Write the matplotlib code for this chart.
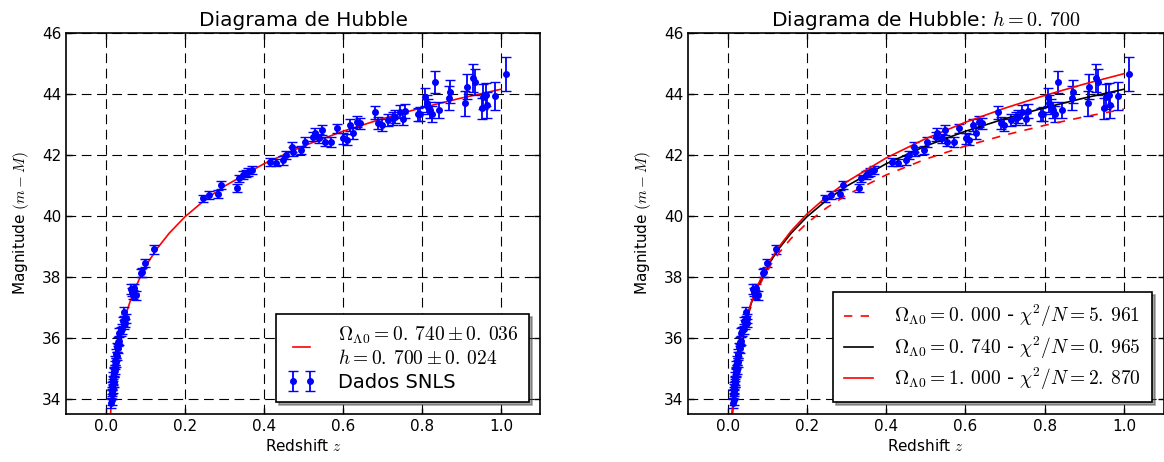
import numpy as np
import matplotlib
matplotlib.use('Agg')
from matplotlib import pyplot as plt

plt.rcParams['mathtext.fontset'] = 'cm'
plt.rcParams['lines.scale_dashes'] = False

# modelo: modulo de distancia (m-M) para h=0.700
z_model = [0.009, 0.011, 0.013, 0.015, 0.018, 0.022, 0.027, 0.033, 0.04, 0.05, 0.06,
           0.075, 0.09, 0.11, 0.13, 0.16, 0.2, 0.25, 0.3, 0.4, 0.5, 0.6, 0.7, 0.8, 0.9, 1.0]
mu_L000 = [32.94, 33.372, 33.735, 34.047, 34.445, 34.883, 35.330, 35.769, 36.190, 36.680, 37.081,
           37.573, 37.976, 38.422, 38.793, 39.258, 39.761, 40.266, 40.682, 41.344, 41.863,
           42.290, 42.653, 42.970, 43.251, 43.503]
mu_L074 = [32.95, 33.385, 33.751, 34.065, 34.466, 34.909, 35.362, 35.807, 36.237, 36.738, 37.151,
           37.658, 38.078, 38.544, 38.936, 39.430, 39.970, 40.518, 40.974, 41.710, 42.293,
           42.776, 43.188, 43.548, 43.867, 44.154]
mu_L100 = [32.95, 33.390, 33.756, 34.071, 34.474, 34.918, 35.374, 35.822, 36.254, 36.760, 37.177,
           37.691, 38.117, 38.593, 38.993, 39.501, 40.060, 40.633, 41.114, 41.900, 42.535,
           43.071, 43.536, 43.950, 44.324, 44.664]

# supernovas proximas
z_near = [0.0140, 0.0145, 0.0150, 0.0155, 0.0160, 0.0165, 0.0170, 0.0175, 0.0180, 0.0190,
          0.0195, 0.0200, 0.0210, 0.0220, 0.0230, 0.0240, 0.0250, 0.0260, 0.0270, 0.0280,
          0.0300, 0.0310, 0.0330, 0.0340, 0.0370, 0.0400, 0.0420, 0.0450, 0.0460, 0.0480,
          0.0500, 0.063, 0.066, 0.069, 0.072, 0.076, 0.088, 0.092, 0.099, 0.121]
m_near = [33.86, 34.14, 33.97, 34.24, 34.15, 34.42, 34.33, 34.60, 34.52, 34.73,
          34.55, 34.90, 34.86, 35.11, 34.95, 35.25, 35.19, 35.48, 35.41, 35.69,
          35.65, 35.87, 35.91, 36.17, 36.21, 36.29, 36.54, 36.44, 36.85, 36.49,
          36.64, 37.60, 37.50, 37.42, 37.62, 37.40, 38.12, 38.15, 38.45, 38.90]
e_near = [0.16, 0.15, 0.17, 0.15, 0.16, 0.14, 0.15, 0.16, 0.14, 0.15,
          0.15, 0.14, 0.15, 0.14, 0.15, 0.14, 0.15, 0.14, 0.14, 0.15,
          0.14, 0.15, 0.14, 0.15, 0.14, 0.15, 0.14, 0.14, 0.15, 0.14,
          0.14, 0.15, 0.14, 0.15, 0.14, 0.15, 0.14, 0.14, 0.14, 0.15]

# supernovas SNLS
z_snls = [0.246, 0.262, 0.284, 0.291, 0.331, 0.337, 0.348, 0.355, 0.360, 0.369,
          0.415, 0.430, 0.449, 0.457, 0.470, 0.474, 0.495, 0.504, 0.525, 0.529,
          0.540, 0.548, 0.554, 0.571, 0.584, 0.601, 0.610, 0.618, 0.626, 0.635,
          0.643, 0.681, 0.689, 0.698, 0.715, 0.727, 0.732, 0.744, 0.753, 0.757,
          0.791, 0.795, 0.808, 0.812, 0.816, 0.820, 0.825, 0.833, 0.843, 0.869,
          0.871, 0.909, 0.913, 0.930, 0.934, 0.951, 0.955, 0.962, 0.964, 0.985, 1.013]
m_snls = [40.57, 40.68, 40.71, 41.00, 40.92, 41.23, 41.34, 41.40, 41.44, 41.50,
          41.77, 41.75, 41.83, 41.99, 42.27, 42.10, 42.16, 42.43, 42.60, 42.71,
          42.55, 42.82, 42.43, 42.43, 42.87, 42.54, 42.50, 42.98, 42.71, 43.09,
          43.04, 43.40, 43.04, 42.98, 43.14, 43.20, 43.25, 43.42, 43.17, 43.44,
          43.33, 43.34, 43.91, 43.69, 43.58, 43.47, 43.33, 44.40, 43.47, 43.86,
          44.08, 43.69, 44.24, 44.52, 44.40, 43.53, 43.91, 43.97, 43.64, 43.93, 44.66]
e_snls = [0.12, 0.12, 0.13, 0.13, 0.14, 0.12, 0.13, 0.12, 0.13, 0.14,
          0.14, 0.13, 0.15, 0.14, 0.16, 0.15, 0.14, 0.17, 0.15, 0.16,
          0.15, 0.16, 0.15, 0.17, 0.16, 0.18, 0.17, 0.20, 0.18, 0.19,
          0.18, 0.21, 0.19, 0.20, 0.20, 0.22, 0.21, 0.22, 0.20, 0.23,
          0.21, 0.22, 0.30, 0.28, 0.25, 0.27, 0.26, 0.36, 0.25, 0.40,
          0.38, 0.40, 0.42, 0.45, 0.42, 0.35, 0.40, 0.38, 0.42, 0.45, 0.55]

z_data = z_near + z_snls
m_data = m_near + m_snls
e_data = e_near + e_snls

fig = plt.figure(figsize=(11.64, 4.62), dpi=100)
ax1 = fig.add_axes([0.0571, 0.1039, 0.4072, 0.8247])
ax2 = fig.add_axes([0.5911, 0.1039, 0.4085, 0.8247])


def estilo(ax, titulo):
    ax.set_xlim(-0.1, 1.1)
    ax.set_ylim(33.5, 46)
    ax.set_xticks([0.0, 0.2, 0.4, 0.6, 0.8, 1.0])
    ax.set_yticks([34, 36, 38, 40, 42, 44, 46])
    ax.set_axisbelow(True)
    ax.grid(True, color='k', linestyle=(0, (7, 4)), linewidth=0.8)
    ax.tick_params(direction='in', top=True, right=True, length=4, width=1, labelsize=11)
    for s in ax.spines.values():
        s.set_linewidth(1.2)
    ax.set_title(titulo, fontsize=14.5, pad=5)
    ax.set_xlabel('Redshift $z$', fontsize=11, labelpad=3)
    ax.set_ylabel('Magnitude $(m-M)$', fontsize=11, labelpad=8)


def dados(ax, lab):
    ax.errorbar(z_data, m_data, yerr=e_data, fmt='o', color='b', ecolor='b', mec='b',
                ms=4, capsize=3.5, elinewidth=1.3, capthick=1, label=lab)


def legenda(ax, **kw):
    leg = ax.legend(loc='lower right', fontsize=14, fancybox=False, shadow=True,
                    framealpha=1, edgecolor='k', handlelength=1.5, handletextpad=1.1,
                    borderpad=0.55, labelspacing=0.25, borderaxespad=0.6, **kw)
    leg.get_frame().set_linewidth(1.2)


# painel esquerdo
estilo(ax1, 'Diagrama de Hubble')
ax1.plot(z_model, mu_L074, color='r', lw=1.2,
         label='$\\Omega_{\\Lambda0} = 0.\\:740 \\pm 0.\\:036$\n$h = 0.\\:700 \\pm 0.\\:024$')
dados(ax1, 'Dados SNLS')
legenda(ax1, numpoints=2)

# painel direito
estilo(ax2, 'Diagrama de Hubble: $h = 0.\\:700$')
dados(ax2, None)
ax2.plot(z_model, mu_L000, color='r', lw=1.2, linestyle=(0, (6, 6)),
         label='$\\Omega_{\\Lambda0} = 0.\\:000$ - $\\chi^2/N = 5.\\:961$')
ax2.plot(z_model, mu_L074, color='k', lw=1.2,
         label='$\\Omega_{\\Lambda0} = 0.\\:740$ - $\\chi^2/N = 0.\\:965$')
ax2.plot(z_model, mu_L100, color='r', lw=1.2,
         label='$\\Omega_{\\Lambda0} = 1.\\:000$ - $\\chi^2/N = 2.\\:870$')
legenda(ax2)

plt.savefig('out.png', dpi=100)
